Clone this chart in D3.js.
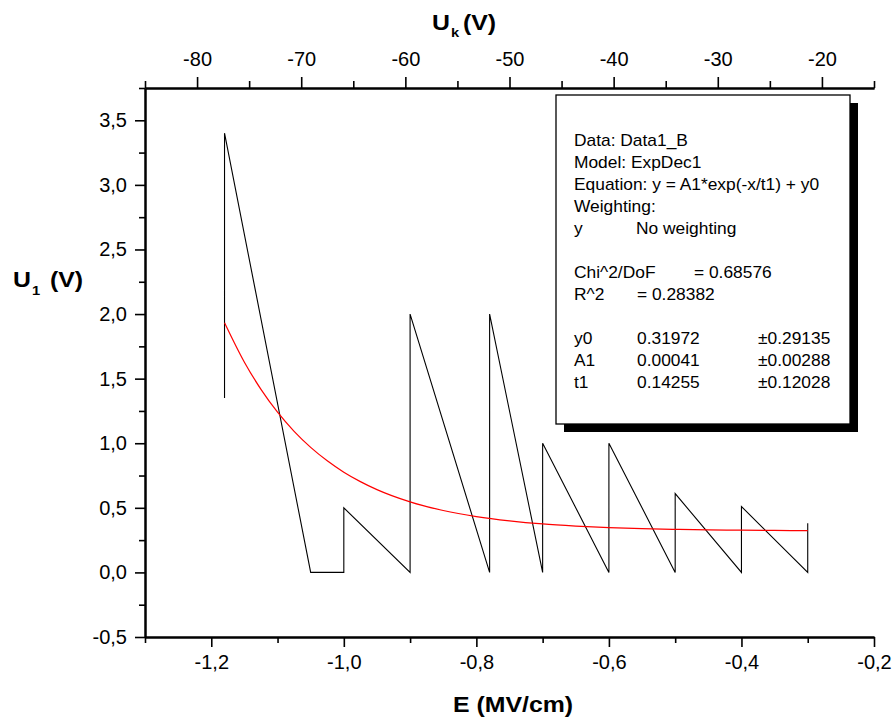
<!DOCTYPE html>
<html>
<head>
<meta charset="utf-8">
<script src="https://cdn.jsdelivr.net/npm/d3@7"></script>
<style>
  html, body { margin: 0; padding: 0; background: #fff; }
  svg { display: block; font-family: Arial, "Liberation Sans", sans-serif; }
</style>
</head>
<body>
<svg id="chart" width="896" height="727"></svg>
<script>
// ---- data ----
const E_values  = [-1.18, -1.18, -1.05, -1.00, -1.00, -0.90, -0.90, -0.78, -0.78, -0.70, -0.70, -0.60, -0.60, -0.50, -0.50, -0.40, -0.40, -0.30, -0.30];
const U1_values = [ 1.35,  3.40,  0.00,  0.00,  0.50,  0.00,  2.00,  0.00,  2.00,  0.00,  1.00,  0.00,  1.00,  0.00,  0.61,  0.00,  0.51,  0.00,  0.38];

const fitE = [-1.18, -1.15, -1.125, -1.10, -1.075, -1.05, -1.025, -1.00, -0.975, -0.95, -0.90, -0.85, -0.80, -0.75, -0.70, -0.65, -0.60, -0.55, -0.50, -0.45, -0.40, -0.35, -0.30];
const fitU = [1.933, 1.627, 1.417, 1.240, 1.092, 0.968, 0.864, 0.776, 0.703, 0.641, 0.546, 0.479, 0.432, 0.399, 0.375, 0.359, 0.347, 0.339, 0.333, 0.329, 0.327, 0.325, 0.323];

const bottomTicks = [-1.2, -1.0, -0.8, -0.6, -0.4, -0.2];
const bottomMinor = [-1.3, -1.1, -0.9, -0.7, -0.5, -0.3];
const topTicks    = [-80, -70, -60, -50, -40, -30, -20];
const topMinor    = [-85, -75, -65, -55, -45, -35, -25, -15];
const leftTicks   = [-0.5, 0, 0.5, 1.0, 1.5, 2.0, 2.5, 3.0, 3.5];
const leftMinor   = [-0.25, 0.25, 0.75, 1.25, 1.75, 2.25, 2.75, 3.25, 3.75];

const legendRows = [
  ["Data: Data1_B"],
  ["Model: ExpDec1"],
  ["Equation: y = A1*exp(-x/t1) + y0"],
  ["Weighting:"],
  ["y", "No weighting"],
  [],
  ["Chi^2/DoF", "= 0.68576"],
  ["R^2", "=  0.28382"],
  [],
  ["y0", "0.31972", "\u00b10.29135"],
  ["A1", "0.00041", "\u00b10.00288"],
  ["t1", "0.14255", "\u00b10.12028"]
];

// ---- layout ----
const svg = d3.select("#chart");
const L = 145, R = 874, T = 88, B = 637;

const x = d3.scaleLinear().domain([-1.3, -0.2]).range([L, R]);
const xTop = d3.scaleLinear().domain([-85, -15]).range([L, R]);
const y = d3.scaleLinear().domain([-0.5, 3.75]).range([B, T]);

const fmt = d => d3.format(".1f")(d).replace(".", ",").replace("\u2212", "-");

// data line
const line = d3.line().x((d, i) => x(E_values[i])).y((d, i) => y(U1_values[i]));
svg.append("path").datum(U1_values)
  .attr("d", line).attr("fill", "none").attr("stroke", "#000").attr("stroke-width", 1.1);

// fit curve
const fitLine = d3.line().x((d, i) => x(fitE[i])).y((d, i) => y(fitU[i])).curve(d3.curveMonotoneX);
svg.append("path").datum(fitU)
  .attr("d", fitLine).attr("fill", "none").attr("stroke", "#ff0000").attr("stroke-width", 1.2);

// legend box with shadow
const bx = 556, by = 95, bw = 294, bh = 329;
svg.append("rect").attr("x", bx + 8).attr("y", by + 8).attr("width", bw).attr("height", bh).attr("fill", "#000");
svg.append("rect").attr("x", bx).attr("y", by).attr("width", bw).attr("height", bh)
  .attr("fill", "#fff").attr("stroke", "#000").attr("stroke-width", 1.3);

const colX = [[574], [574], [574], [574], [574, 636], [], [574, 694], [574, 637], [], [574, 637, 758], [574, 637, 758], [574, 637, 758]];
const lg = svg.append("g").attr("font-size", 15.8).attr("fill", "#000");
legendRows.forEach((row, i) => {
  const yy = 145.5 + i * 22;
  row.forEach((t, j) => {
    lg.append("text").attr("transform", `translate(${colX[i][j]},${yy}) scale(1.1,1)`).text(t);
  });
});

// axes
function styleAxis(g) {
  g.selectAll(".domain").attr("stroke-width", 2);
  g.selectAll(".tick line").attr("stroke-width", 1.6);
  g.selectAll("text").attr("font-size", 20).attr("font-family", "Arial, 'Liberation Sans', sans-serif").attr("fill", "#000");
}

svg.append("g").attr("transform", `translate(0,${B})`)
  .call(d3.axisBottom(x).tickValues(bottomMinor).tickSize(6).tickSizeOuter(0).tickFormat(""))
  .call(styleAxis);
svg.append("g").attr("transform", `translate(0,${B})`)
  .call(d3.axisBottom(x).tickValues(bottomTicks).tickSize(10).tickSizeOuter(0).tickPadding(8).tickFormat(fmt))
  .call(styleAxis);

svg.append("g").attr("transform", `translate(0,${T})`)
  .call(d3.axisTop(xTop).tickValues(topMinor).tickSize(7).tickSizeOuter(0).tickFormat(""))
  .call(styleAxis);
svg.append("g").attr("transform", `translate(0,${T})`)
  .call(d3.axisTop(xTop).tickValues(topTicks).tickSize(11).tickSizeOuter(0).tickPadding(11).tickFormat(d => String(d)))
  .call(styleAxis);

svg.append("g").attr("transform", `translate(${L},0)`)
  .call(d3.axisLeft(y).tickValues(leftMinor).tickSize(6).tickSizeOuter(0).tickFormat(""))
  .call(styleAxis);
svg.append("g").attr("transform", `translate(${L},0)`)
  .call(d3.axisLeft(y).tickValues(leftTicks).tickSize(10).tickSizeOuter(0).tickPadding(8).tickFormat(fmt))
  .call(styleAxis);

// axis titles (separate pieces for main letter, subscript and unit)
function piece(xx, yy, txt, size) {
  svg.append("text").attr("transform", `translate(${xx},${yy}) scale(1.13,1)`)
    .attr("font-weight", "bold").attr("font-size", size).attr("fill", "#000").text(txt);
}
piece(453, 712, "E (MV/cm)", 22);
piece(432, 30, "U", 22);
piece(451, 37, "k", 13);
piece(463, 30, "(V)", 22);
piece(13, 287, "U", 22);
piece(32, 295, "1", 13);
piece(50, 287, "(V)", 22);
</script>
</body>
</html>
